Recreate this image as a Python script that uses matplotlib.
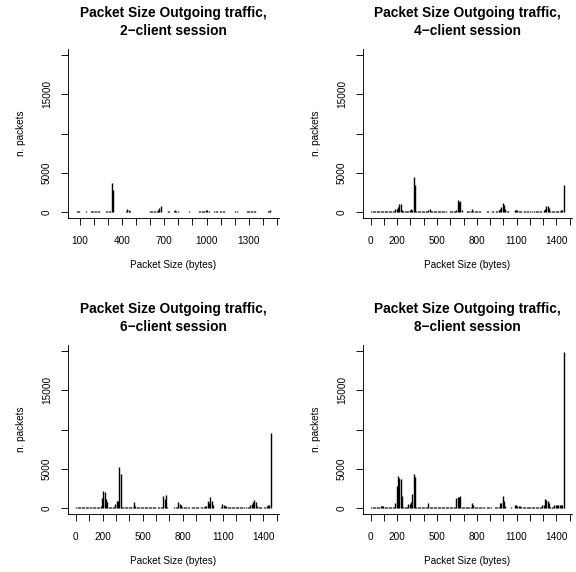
import numpy as np
import matplotlib
matplotlib.use("Agg")
import matplotlib.pyplot as plt

plt.rcParams["font.family"] = ["Liberation Sans", "DejaVu Sans"]

# packet-size bins (bin centres, bytes)
sizes = np.arange(5, 1500, 10)

# counts per bin, one row of ten values = 100 bytes
counts_2c = [
    0, 0, 0, 0, 0, 0, 0, 80, 80, 80,
    0, 0, 0, 0, 60, 0, 0, 80, 90, 80,
    100, 120, 100, 80, 0, 0, 0, 0, 60, 80,
    80, 150, 3700, 2800, 0, 0, 0, 0, 0, 0,
    0, 0, 100, 350, 200, 60, 0, 0, 0, 0,
    0, 0, 0, 0, 0, 0, 0, 0, 0, 60,
    80, 80, 100, 80, 120, 250, 450, 700, 0, 0,
    0, 0, 80, 80, 0, 0, 100, 200, 80, 80,
    0, 0, 0, 0, 0, 0, 0, 60, 0, 0,
    0, 0, 0, 0, 80, 80, 100, 80, 150, 280,
    200, 80, 0, 0, 0, 80, 80, 60, 0, 80,
    80, 100, 80, 0, 0, 0, 0, 0, 0, 0,
    60, 60, 0, 0, 0, 0, 0, 0, 80, 100,
    120, 80, 150, 80, 80, 0, 0, 0, 0, 0,
    0, 0, 0, 80, 100, 200, 0, 0, 0, 0,
]

counts_4c = [
    80, 100, 80, 80, 100, 80, 60, 80, 100, 80,
    80, 80, 60, 80, 80, 100, 80, 100, 300, 350,
    650, 950, 950, 250, 150, 150, 100, 150, 150, 250,
    300, 250, 4500, 3400, 150, 100, 150, 100, 100, 150,
    100, 100, 150, 200, 350, 150, 100, 100, 100, 100,
    100, 80, 100, 100, 80, 100, 80, 0, 0, 100,
    100, 100, 150, 150, 250, 1480, 1300, 1350, 200, 0,
    0, 0, 100, 100, 100, 150, 400, 150, 100, 100,
    100, 100, 80, 0, 0, 0, 0, 60, 60, 0,
    0, 80, 80, 0, 150, 150, 250, 300, 600, 1150,
    900, 350, 100, 100, 0, 0, 0, 0, 250, 250,
    200, 100, 100, 100, 0, 80, 80, 80, 80, 0,
    60, 60, 0, 100, 100, 100, 100, 100, 100, 0,
    250, 300, 750, 700, 500, 100, 100, 100, 100, 100,
    100, 100, 150, 200, 200, 3400, 0, 0, 0, 0,
]

counts_6c = [
    80, 80, 80, 80, 80, 80, 80, 150, 150, 80,
    80, 100, 80, 100, 100, 120, 100, 150, 200, 1200,
    2150, 2050, 1100, 700, 100, 100, 100, 150, 150, 500,
    850, 900, 5200, 4300, 150, 100, 100, 100, 100, 100,
    100, 100, 150, 700, 200, 100, 100, 100, 80, 80,
    80, 80, 100, 80, 80, 80, 80, 100, 80, 80,
    0, 100, 100, 120, 150, 1540, 1100, 1620, 150, 0,
    0, 0, 0, 100, 100, 150, 730, 500, 300, 100,
    100, 80, 80, 80, 80, 0, 80, 80, 80, 80,
    80, 80, 0, 80, 150, 150, 200, 250, 800, 600,
    1370, 900, 300, 0, 0, 0, 0, 0, 100, 450,
    300, 200, 200, 150, 80, 80, 100, 80, 80, 80,
    80, 80, 80, 100, 80, 80, 0, 80, 80, 100,
    300, 500, 700, 950, 700, 200, 100, 100, 100, 0,
    150, 150, 200, 300, 400, 9500, 0, 0, 0, 0,
]

counts_8c = [
    80, 80, 80, 80, 80, 80, 80, 250, 250, 250,
    100, 100, 80, 100, 100, 100, 100, 150, 600, 2800,
    4050, 3800, 3700, 1450, 100, 100, 100, 100, 500, 500,
    700, 1700, 4350, 3900, 100, 100, 100, 100, 100, 100,
    100, 100, 100, 600, 100, 100, 100, 100, 100, 100,
    100, 100, 100, 100, 100, 100, 100, 100, 100, 100,
    100, 100, 100, 100, 1280, 1400, 1400, 1500, 100, 80,
    80, 80, 80, 80, 80, 100, 640, 350, 100, 100,
    100, 100, 100, 100, 100, 100, 0, 80, 80, 80,
    80, 0, 0, 100, 100, 100, 150, 600, 600, 1450,
    800, 200, 0, 0, 0, 60, 0, 0, 400, 400,
    250, 250, 200, 100, 80, 80, 80, 80, 80, 80,
    80, 80, 100, 80, 80, 80, 80, 80, 100, 300,
    300, 1070, 1000, 900, 600, 100, 100, 100, 300, 350,
    400, 350, 400, 400, 400, 19900, 0, 0, 0, 0,
]

panels = [
    ("2\u2212client session", counts_2c, (14, 1516),
     [100, 400, 700, 1000, 1300]),
    ("4\u2212client session", counts_4c, (-58, 1518),
     [0, 200, 500, 800, 1100, 1400]),
    ("6\u2212client session", counts_6c, (-58, 1518),
     [0, 200, 500, 800, 1100, 1400]),
    ("8\u2212client session", counts_8c, (-58, 1518),
     [0, 200, 500, 800, 1100, 1400]),
]

W, H = 576, 572
fig = plt.figure(figsize=(W / 72, H / 72), dpi=72)

# axes boxes in pixels: left, right, top, bottom
boxes = [(68, 279, 49, 218), (363, 572, 49, 218),
         (68, 279, 345, 514), (363, 572, 345, 514)]

for (sub, counts, xlim, xlab), (l, r, t, b) in zip(panels, boxes):
    ax = fig.add_axes([l / W, 1 - b / H, (r - l) / W, (b - t) / H])
    ax.vlines(sizes, 0, counts, colors="black", linewidth=1.4,
              capstyle="butt")
    ax.set_xlim(*xlim)
    ax.set_ylim(-800, 20800)

    xt = np.arange(xlim[0] // 100 * 100 + 100 if xlim[0] > 0 else 0, 1501, 100)
    ax.set_xticks(xt)
    ax.set_xticklabels([str(v) if v in xlab else "" for v in xt])
    yt = [0, 5000, 10000, 15000, 20000]
    ax.set_yticks(yt)
    ax.set_yticklabels(["0", "5000", "", "15000", ""], rotation=90,
                       va="center")

    for s in ("top", "right"):
        ax.spines[s].set_visible(False)
    for s in ("left", "bottom"):
        ax.spines[s].set_linewidth(0.9)
    ax.tick_params(axis="both", direction="out", length=7, width=0.9,
                   labelsize=10)
    ax.tick_params(axis="x", pad=11)
    ax.tick_params(axis="y", pad=9)

    ax.set_xlabel("Packet Size (bytes)", fontsize=10)
    ax.xaxis.set_label_coords(0.5, -47 / (b - t))
    ax.xaxis.label.set_verticalalignment("center")
    ax.set_ylabel("n. packets", fontsize=10)
    ax.yaxis.set_label_coords(-47 / (r - l), 0.5)
    ax.yaxis.label.set_verticalalignment("center")

    cx = (l + r) / 2 / W
    fig.text(cx, 1 - (t - 32) / H, "Packet Size Outgoing traffic,",
             ha="center", va="baseline", fontsize=13.8, fontweight="bold")
    fig.text(cx, 1 - (t - 14) / H, sub,
             ha="center", va="baseline", fontsize=13.8, fontweight="bold")

fig.savefig("out.png", dpi=72)
